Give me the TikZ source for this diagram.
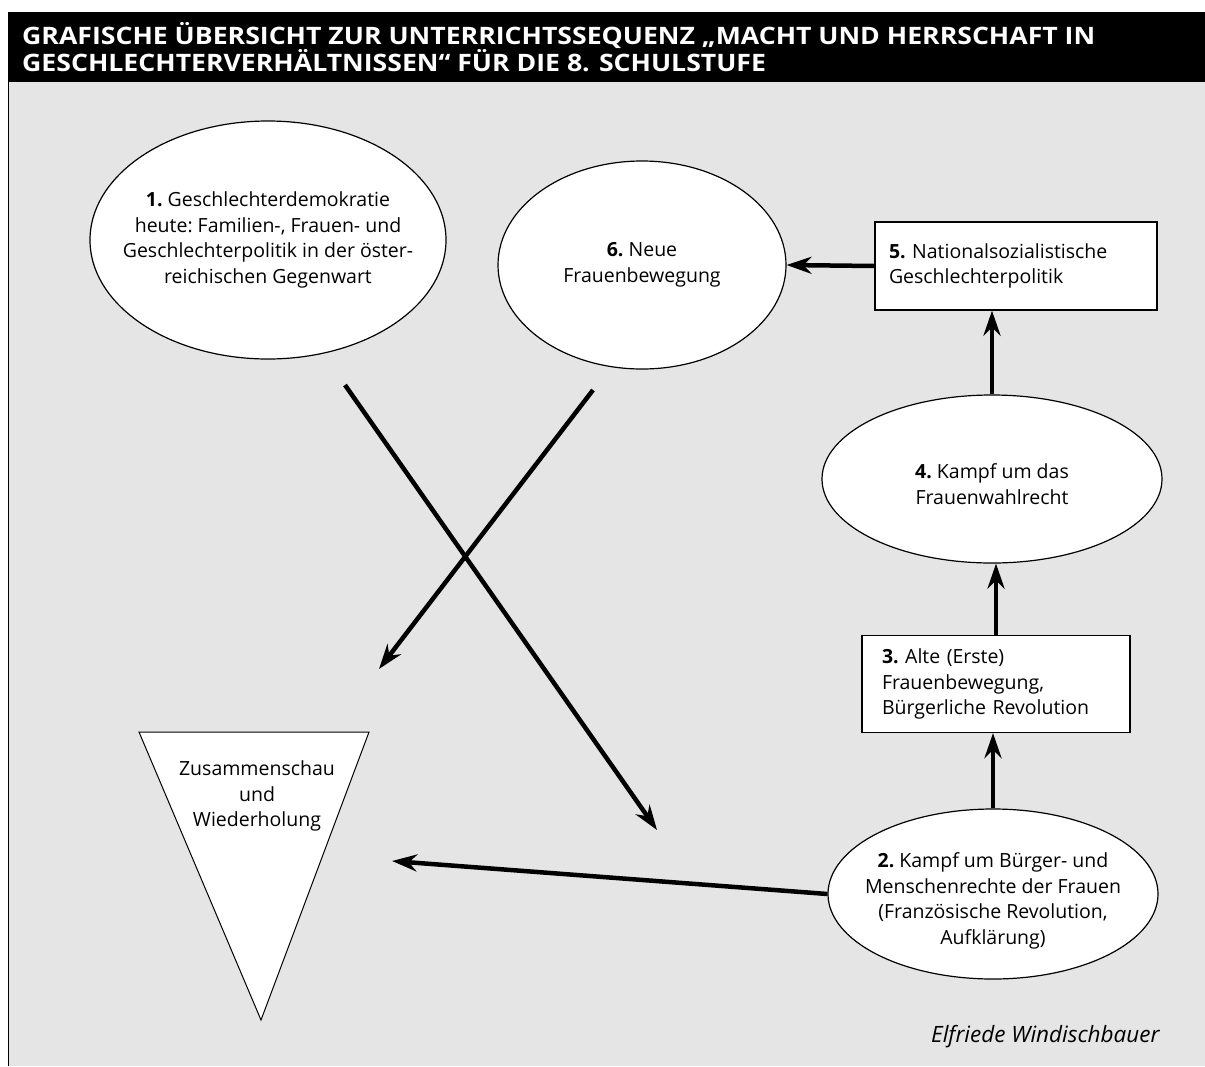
\documentclass[tikz,border=0pt]{standalone}
\usepackage{xcolor}
\usepackage{fontspec}
\setmainfont{Open Sans}
\newfontfamily\titelschrift[FakeStretch=1.11]{Open Sans}
\usepackage{tikz}
\usetikzlibrary{shapes.geometric,arrows.meta}

\tikzset{
  oval/.style={draw=black, line width=1.2pt, fill=white, ellipse, inner sep=0pt},
  kasten/.style={draw=black, line width=1.2pt, fill=white, align=left},
  schrift/.style={font=\fontsize{19.5}{25.5}\selectfont\frenchspacing},
  pfeil/.style={line width=4.5pt, -{Stealth[length=25pt,width=17pt]}}
}

\begin{document}
\begin{tikzpicture}[x=1pt,y=-1pt]
             \useasboundingbox (0,0) rectangle (1205,1066);
             \fill[black!10] (8,82) rectangle (1205,1066);
             \draw[line width=1pt] (8,82) -- (8,1066);
             \fill[black] (8,12) rectangle (1205,82);
             \node[anchor=west, align=left, text=white, inner sep=0pt, font=\titelschrift\fontsize{24}{25}\selectfont\bfseries] (titel) at (22,47)
               {GRAFISCHE ÜBERSICHT ZUR UNTERRICHTSSEQUENZ „MACHT UND HERRSCHAFT IN\\GESCHLECHTERVERHÄLTNISSEN“ FÜR DIE 8. SCHULSTUFE};
             
             \node[oval, minimum width=356, minimum height=238] (e1) at (268,240) {};
             \node[schrift, align=center] (t1) at (e1) {\textbf{1.} Geschlechterdemokratie\\heute: Familien-, Frauen- und\\Geschlechterpolitik in der öster-\\reichischen Gegenwart};
             
             \node[oval, minimum width=288, minimum height=208] (e6) at (642,265) {};
             \node[schrift, align=center] (t6) at (e6) {\textbf{6.} Neue\\Frauenbewegung};
             
             \node[kasten, schrift, minimum width=282, minimum height=88, text width=254, inner xsep=14] (b5) at (1016,266) {\textbf{5.} Nationalsozialistische\\Geschlechterpolitik};
             
             \node[oval, minimum width=340, minimum height=168] (e4) at (992,479) {};
             \node[schrift, align=center] (t4) at (992,484) {\textbf{4.} Kampf um das\\Frauenwahlrecht};
             
             \node[kasten, schrift, minimum width=268, minimum height=97, text width=228, inner xsep=20] (b3) at (996,684) {\textbf{3.} Alte (Erste)\\Frauenbewegung,\\Bürgerliche Revolution};
             
             \node[oval, minimum width=330, minimum height=170] (e2) at (993,894) {};
             \node[schrift, align=center] (t2) at (993,901) {\textbf{2.} Kampf um Bürger- und\\Menschenrechte der Frauen\\(Französische Revolution,\\Aufklärung)};
             
             \draw[line width=1pt, fill=white] (139,732) -- (369,732) -- (261,1020) -- cycle;
             \node[schrift, align=center] (tz) at (257,796) {Zusammenschau\\und\\Wiederholung};
             
             \node[anchor=east, font=\fontsize{22.5}{25}\selectfont\itshape] (autor) at (1163,1037) {Elfriede Windischbauer};
             
             \coordinate (s1) at (345,385);
             \coordinate (z1) at (657,830);
             \coordinate (s6) at (593,390);
             \coordinate (z6) at (379,669);
             \coordinate (z2) at (392,861);
             
             \draw[pfeil] (b5.west) -- (e6.east);
             \draw[pfeil] (e4.north) -- (e4.north |- b5.south);
             \draw[pfeil] (b3.north) -- (b3.north |- e4.south);
             \draw[pfeil] (e2.north) -- (e2.north |- b3.south);
             \draw[pfeil] (e2.west) -- (z2);
             \draw[pfeil] (s1) -- (z1);
             \draw[pfeil] (s6) -- (z6);
\end{tikzpicture}
\end{document}
